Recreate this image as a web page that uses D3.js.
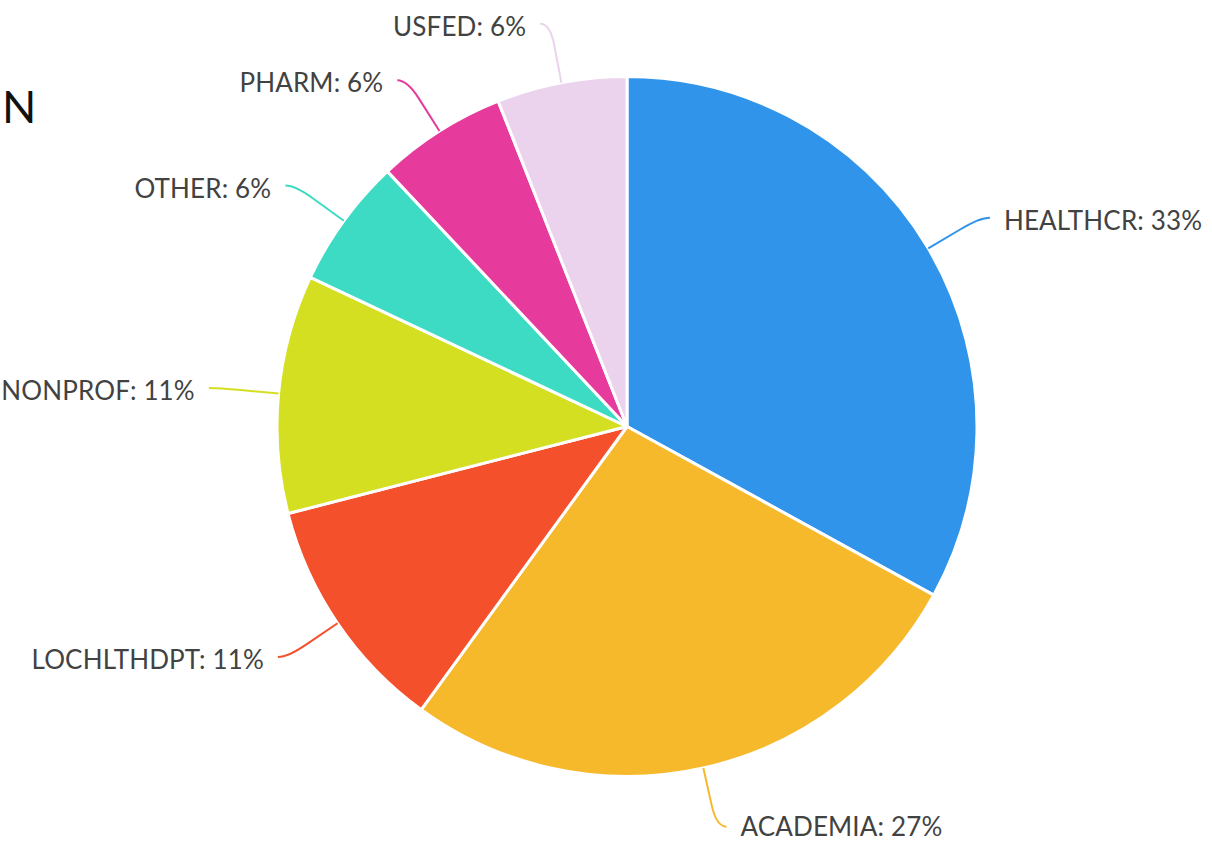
<!DOCTYPE html>
<html>
<head>
<meta charset="utf-8">
<script src="https://cdn.jsdelivr.net/npm/d3@7"></script>
<style>
  body { margin: 0; background: #fff; }
  svg { display: block; }
  .slice-label { font-family: Lato, 'Open Sans', sans-serif; font-size: 26px; font-weight: 400; letter-spacing: 0.15px; fill: #424242; }
</style>
</head>
<body>
<div id="chart"></div>
<script>
'use strict';
// Sector share (percent)
const sectors = ['HEALTHCR', 'ACADEMIA', 'LOCHLTHDPT', 'NONPROF', 'OTHER', 'PHARM', 'USFED']
const shares = [33, 27, 11, 11, 6, 6, 6]
const colors = ['#3095ea', '#f6b92c', '#f5502c', '#d5df22', '#3ddbc4', '#e63a9d', '#ebd3ee']

const width = 1212
const height = 843
const cx = 627
const cy = 426.5
const radius = 350
const elbowR = 410

const svg = d3.select('#chart').append('svg')
    .attr('width', width)
    .attr('height', height)

svg.append('text') // clipped title remnant
    .attr('x', 2)
    .attr('y', 123)
    .style('font-family', 'Lato, sans-serif')
    .style('font-size', '45px')
    .style('fill', '#111')
    .text('N')

const data = sectors.map((s, i) => ({ name: s, value: shares[i], color: colors[i] }))
const pie = d3.pie().value(d => d.value).sort(null)
const arcs = pie(data)
const arc = d3.arc().innerRadius(0).outerRadius(radius)

const g = svg.append('g').attr('transform', `translate(${cx},${cy})`)

g.selectAll('path.slice') // Draw slices
    .data(arcs).enter().append('path')
    .attr('class', 'slice')
    .attr('d', arc)
    .attr('fill', d => d.data.color)
    .attr('stroke', '#fff')
    .attr('stroke-width', 3)
    .attr('stroke-linejoin', 'round')

function polar(r, a) { return [r * Math.sin(a), -r * Math.cos(a)] }

function leader(d) {
    const a = (d.startAngle + d.endAngle) / 2
    const side = Math.sin(a) >= 0 ? 1 : -1
    const p0 = polar(radius, a)
    const p1 = polar(elbowR - 22, a)
    const e = polar(elbowR, a)
    const t = [e[0] + side * 10, e[1]]
    return { a, side, t, path: `M ${p0[0]} ${p0[1]} L ${p1[0]} ${p1[1]} Q ${e[0]} ${e[1]} ${t[0]} ${t[1]}` }
}

g.selectAll('path.leader') // Draw leader lines
    .data(arcs).enter().append('path')
    .attr('class', 'leader')
    .attr('d', d => leader(d).path)
    .attr('fill', 'none')
    .attr('stroke', d => d.data.color)
    .attr('stroke-width', 2)

g.selectAll('text.slice-label') // Labels, kept inside the frame
    .data(arcs).enter().append('text')
    .attr('class', 'slice-label')
    .attr('x', d => { const l = leader(d); return l.t[0] + l.side * 14 })
    .attr('y', d => Math.min(leader(d).t[1] + 2, height - cy - 17))
    .attr('dominant-baseline', 'central')
    .attr('text-anchor', d => leader(d).side > 0 ? 'start' : 'end')
    .text(d => `${d.data.name}: ${d.data.value}%`)
</script>
</body>
</html>
